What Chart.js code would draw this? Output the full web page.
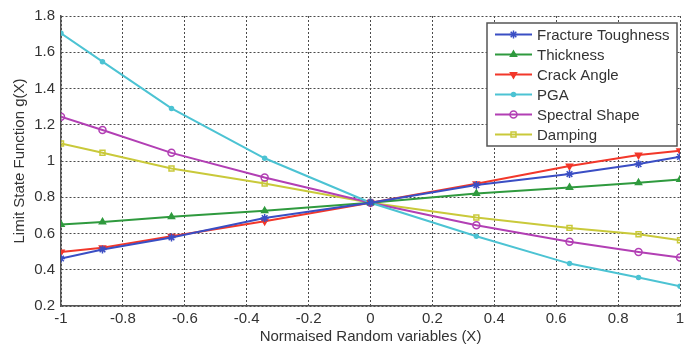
<!DOCTYPE html>
<html>
<head>
<meta charset="utf-8">
<script src="https://cdn.jsdelivr.net/npm/chart.js@4.4.0/dist/chart.umd.min.js"></script>
<style>
  html, body { margin: 0; padding: 0; background: #fff; }
  #wrap { width: 692px; height: 346px; }
</style>
</head>
<body>
<div id="wrap"><canvas id="chart" width="692" height="346"></canvas></div>
<script>
/* ── Data ─────────────────────────────────────────────────── */

const xValues = [-1, -0.866, -0.643, -0.342, 0, 0.342, 0.643, 0.866, 1];

const seriesNames = ['Fracture Toughness', 'Thickness', 'Crack Angle', 'PGA', 'Spectral Shape', 'Damping'];

const fractureToughness = [0.462, 0.512, 0.578, 0.685, 0.770, 0.867, 0.928, 0.983, 1.023];
const thickness         = [0.650, 0.664, 0.692, 0.725, 0.770, 0.821, 0.854, 0.880, 0.898];
const crackAngle        = [0.498, 0.522, 0.585, 0.668, 0.770, 0.875, 0.972, 1.033, 1.056];
const pga               = [1.705, 1.548, 1.290, 1.015, 0.770, 0.585, 0.434, 0.357, 0.309];
const spectralShape     = [1.244, 1.171, 1.045, 0.909, 0.770, 0.646, 0.554, 0.498, 0.467];
const damping           = [1.097, 1.045, 0.959, 0.876, 0.770, 0.688, 0.631, 0.596, 0.563];

const xTicks = [-1, -0.8, -0.6, -0.4, -0.2, 0, 0.2, 0.4, 0.6, 0.8, 1];
const yTicks = [0.2, 0.4, 0.6, 0.8, 1, 1.2, 1.4, 1.6, 1.8];

/* ── Styles ───────────────────────────────────────────────── */

const FONT = "'Liberation Sans', Arial, sans-serif";
const TEXT = '#333333';
const GRID = '#4a4a4a';

const styles = [
  { color: '#3a4ec4', pointStyle: 'star',     radius: 4,   rotation: 0,   fill: true  },
  { color: '#2f9a3e', pointStyle: 'triangle', radius: 3.5, rotation: 0,   fill: true  },
  { color: '#f2372a', pointStyle: 'triangle', radius: 3.5, rotation: 180, fill: true  },
  { color: '#4cc3d3', pointStyle: 'circle',   radius: 2,   rotation: 0,   fill: true  },
  { color: '#b23fb4', pointStyle: 'circle',   radius: 3.5, rotation: 0,   fill: false },
  { color: '#c9c93a', pointStyle: 'rect',     radius: 3.5, rotation: 0,   fill: false },
];

const allSeries = [fractureToughness, thickness, crackAngle, pga, spectralShape, damping];

const datasets = allSeries.map((values, i) => ({
  label: seriesNames[i],
  data: values.map((y, k) => ({ x: xValues[k], y })),
  borderColor: styles[i].color,
  backgroundColor: styles[i].fill ? styles[i].color : 'rgba(0,0,0,0)',
  borderWidth: 2,
  pointStyle: styles[i].pointStyle,
  pointRadius: styles[i].radius,
  pointRotation: styles[i].rotation,
  pointBorderWidth: 1.5,
  pointBorderColor: styles[i].color,
  pointBackgroundColor: styles[i].fill ? styles[i].color : 'rgba(0,0,0,0)',
  tension: 0,
}));

/* ── Legend (MATLAB style box, drawn on top) ──────────────── */

const boxLegend = {
  id: 'boxLegend',
  afterDatasetsDraw(chart) {
    const ctx = chart.ctx;
    const area = chart.chartArea;
    const left = 487, top = 23, right = area.right - 3, bottom = 146;
    ctx.save();
    ctx.fillStyle = '#ffffff';
    ctx.fillRect(left, top, right - left, bottom - top);
    ctx.strokeStyle = '#555555';
    ctx.lineWidth = 1.5;
    ctx.strokeRect(left, top, right - left, bottom - top);

    ctx.font = '15px ' + FONT;
    ctx.textBaseline = 'middle';
    chart.data.datasets.forEach((ds, i) => {
      const y = 34.5 + i * 20;
      ctx.strokeStyle = ds.borderColor;
      ctx.lineWidth = 2;
      ctx.beginPath();
      ctx.moveTo(495, y);
      ctx.lineTo(532, y);
      ctx.stroke();
      ctx.fillStyle = ds.pointBackgroundColor;
      ctx.lineWidth = 1.5;
      Chart.helpers.drawPoint(ctx, {
        pointStyle: ds.pointStyle,
        radius: ds.pointRadius,
        rotation: ds.pointRotation,
        borderWidth: 1.5,
      }, 513.5, y);
      ctx.fillStyle = TEXT;
      ctx.fillText(ds.label, 537, y + 1);
    });
    ctx.restore();
  },
};

/* ── Chart ────────────────────────────────────────────────── */

const fmt = (v) => String(Number(v.toFixed(1)));

new Chart(document.getElementById('chart'), {
  type: 'line',
  data: { datasets },
  plugins: [boxLegend],
  options: {
    responsive: false,
    animation: false,
    devicePixelRatio: 1,
    layout: { padding: { top: 16, right: 12, left: 0, bottom: 0 } },
    plugins: {
      legend: { display: false },
      tooltip: { enabled: false },
    },
    scales: {
      x: {
        type: 'linear',
        min: -1,
        max: 1,
        afterBuildTicks: (scale) => { scale.ticks = xTicks.map((v) => ({ value: v })); },
        afterFit: (scale) => { scale.height = 40; },
        border: { color: '#555555', width: 1.5, dash: [2, 2] },
        grid: { color: GRID, lineWidth: 1, drawTicks: false },
        ticks: {
          color: TEXT,
          font: { family: FONT, size: 15 },
          padding: 4,
          maxRotation: 0,
          autoSkip: false,
          callback: (v) => fmt(v),
        },
        title: {
          display: true,
          text: 'Normaised Random variables (X)',
          color: TEXT,
          font: { family: FONT, size: 15 },
          padding: { top: 0, bottom: 0 },
        },
      },
      y: {
        type: 'linear',
        min: 0.2,
        max: 1.8,
        afterBuildTicks: (scale) => { scale.ticks = yTicks.map((v) => ({ value: v })); },
        afterFit: (scale) => { scale.width = 61; },
        border: { color: '#555555', width: 1.5, dash: [2, 2] },
        grid: { color: GRID, lineWidth: 1, drawTicks: false },
        ticks: {
          color: TEXT,
          font: { family: FONT, size: 15 },
          padding: 6,
          autoSkip: false,
          callback: (v) => fmt(v),
        },
        title: {
          display: true,
          text: 'Limit State Function g(X)',
          color: TEXT,
          font: { family: FONT, size: 15 },
          padding: { top: 11, bottom: 0 },
        },
      },
    },
  },
});
</script>
</body>
</html>
